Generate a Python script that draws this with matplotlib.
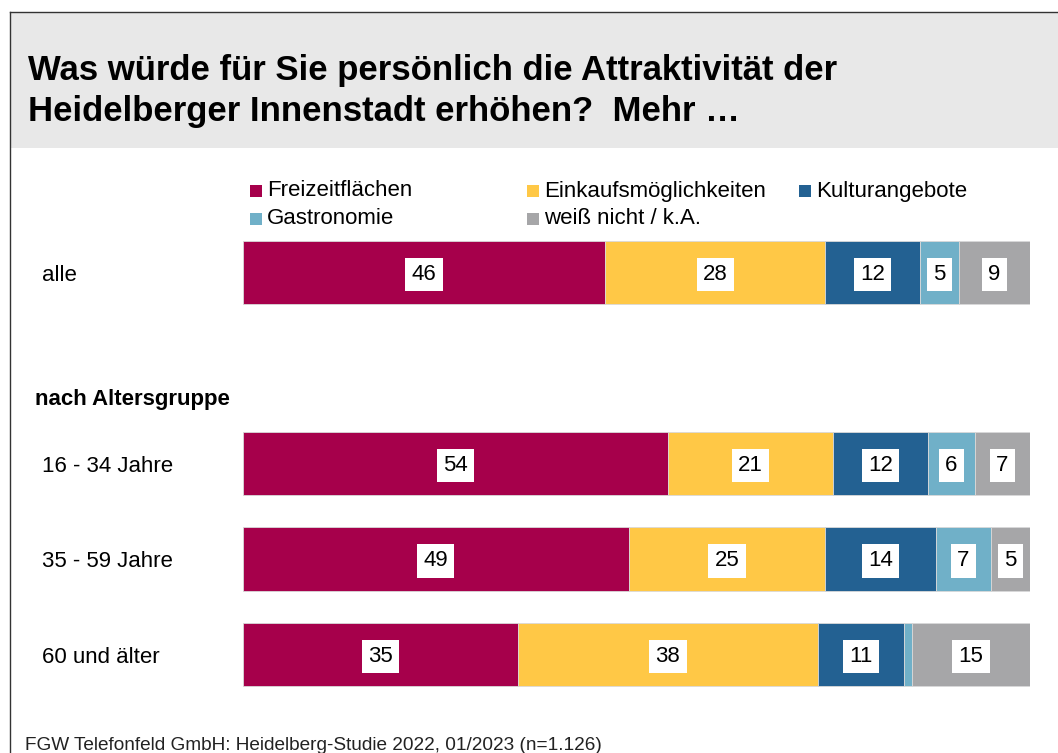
import matplotlib.pyplot as plt
import matplotlib.patches as mpatches
from matplotlib.transforms import blended_transform_factory
import numpy as np

plt.rcParams['font.family'] = ['Liberation Sans', 'DejaVu Sans']

# data
rows = ['alle', '16 - 34 Jahre', '35 - 59 Jahre', '60 und älter']
categories = ['Freizeitflächen', 'Einkaufsmöglichkeiten', 'Kulturangebote',
              'Gastronomie', 'weiß nicht / k.A.']
freizeit = [46, 54, 49, 35]
einkauf = [28, 21, 25, 38]
kultur = [12, 12, 14, 11]
gastro = [5, 6, 7, 1]
weiss_nicht = [9, 7, 5, 15]

colors = ['#A6004B', '#FFC846', '#236192', '#70B0C8', '#A6A6A8']
series = [freizeit, einkauf, kultur, gastro, weiss_nicht]

W, H = 1058, 753
fig = plt.figure(figsize=(W / 100, H / 100), dpi=100)

# header band and frame
fig.patches.append(mpatches.Rectangle((10 / W, 1 - 148 / H), 1 - 10 / W, 136 / H,
                                      transform=fig.transFigure, facecolor='#E8E8E8',
                                      edgecolor='none', zorder=0))
fig.add_artist(plt.Line2D([10 / W, 10 / W], [0, 1 - 12 / H], color='#333333', lw=1,
                          transform=fig.transFigure))
fig.add_artist(plt.Line2D([10 / W, 1], [1 - 12 / H, 1 - 12 / H], color='#333333', lw=1,
                          transform=fig.transFigure))

fig.text(28 / W, 1 - 91 / H,
         'Was würde für Sie persönlich die Attraktivität der\nHeidelberger Innenstadt erhöhen?  Mehr …',
         fontsize=25, fontweight='bold', va='center', ha='left', linespacing=1.33)

# bars
ax = fig.add_axes([243 / W, 1 - 702.25 / H, 787 / W, 477.5 / H])
ypos = np.array([0, 2, 3, 4])
left = np.zeros(len(rows))
for vals, col in zip(series, colors):
    vals = np.array(vals, dtype=float)
    ax.barh(ypos, vals, left=left, height=0.66, color=col, edgecolor='#d9d9d9', lw=0.6)
    for y, l, v in zip(ypos, left, vals):
        if v >= 3:
            ax.text(l + v / 2, y + 0.02, f'{v:.0f}', ha='center', va='center', fontsize=16,
                    color='black',
                    bbox=dict(boxstyle='square,pad=0.28', facecolor='white', edgecolor='none'))
    left += vals
ax.set_xlim(0, 100)
ax.set_ylim(4.5, -0.5)
ax.axis('off')

tr = blended_transform_factory(fig.transFigure, ax.transData)
for y, name in zip(ypos, rows):
    fig.text(42 / W, y + 0.03, name, transform=tr, fontsize=16, va='center', ha='left')
fig.text(35 / W, 1.33, 'nach Altersgruppe', transform=tr, fontsize=16,
         fontweight='bold', va='center', ha='left')

# legend
leg_x = [250, 527, 799, 250, 527]
leg_y = [191, 191, 191, 219, 219]
for name, col, lx, ly in zip(categories, colors, leg_x, leg_y):
    fig.patches.append(mpatches.Rectangle((lx / W, 1 - (ly + 6) / H), 12 / W, 12 / H,
                                          transform=fig.transFigure, facecolor=col,
                                          edgecolor='none'))
    fig.text((lx + 17) / W, 1 - ly / H, name, fontsize=16, va='center', ha='left')

fig.text(25 / W, 1 - 746 / H, 'FGW Telefonfeld GmbH: Heidelberg-Studie 2022, 01/2023 (n=1.126)',
         fontsize=13.7, va='center', ha='left', color='#222222')

fig.savefig('out.png', dpi=100)
